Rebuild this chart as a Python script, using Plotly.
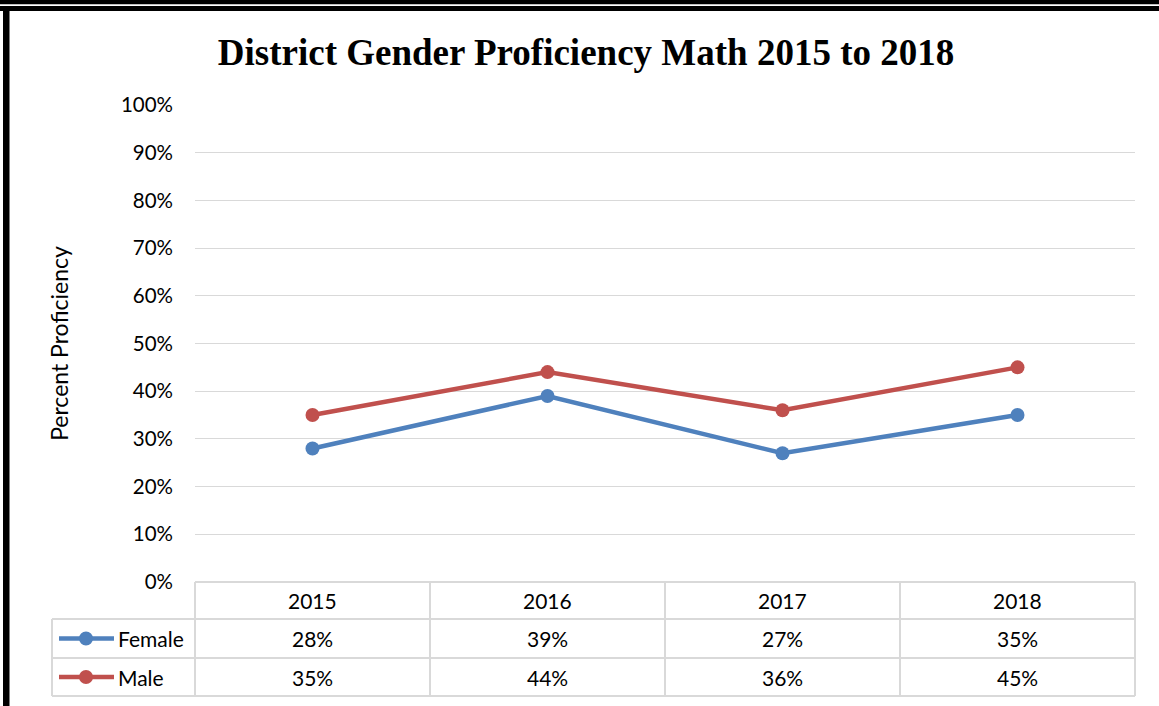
import plotly.graph_objects as go

years = ["2015", "2016", "2017", "2018"]
female = [0.28, 0.39, 0.27, 0.35]
male = [0.35, 0.44, 0.36, 0.45]
series_names = ["Female", "Male"]
series_colors = ["#4F81BD", "#C0504D"]
title_text = "District Gender Proficiency Math 2015 to 2018"
y_title = "Percent Proficiency"

W, H = 1159, 706
L, R, T, B = 195, 24, 105, 124
PW, PH = W - L - R, H - T - B
FONT = "Lato, Carlito, sans-serif"


def px(x):
    return (x - L) / PW


def py(y):
    return (H - B - y) / PH


fig = go.Figure()
for name, vals, col in zip(series_names, [female, male], series_colors):
    fig.add_trace(go.Scatter(
        x=years, y=vals, name=name, mode="lines+markers",
        line=dict(color=col, width=4.5),
        marker=dict(color=col, size=14),
        showlegend=False, cliponaxis=False,
    ))

shapes = []
annotations = []
grid = "#d9d9d9"

# Frame border (top double band, left bar)
shapes.append(dict(type="rect", xref="paper", yref="paper", x0=px(0), x1=px(W), y0=py(0), y1=py(4.3),
                   fillcolor="black", line=dict(width=0), layer="above"))
shapes.append(dict(type="rect", xref="paper", yref="paper", x0=px(0), x1=px(W), y0=py(6), y1=py(11),
                   fillcolor="black", line=dict(width=0), layer="above"))
shapes.append(dict(type="rect", xref="paper", yref="paper", x0=px(3), x1=px(9.5), y0=py(11), y1=py(H),
                   fillcolor="black", line=dict(width=0), layer="above"))

# Data table
n = len(years)
row_y = [582, 619, 658, 696]
leg_x = 52


def colx(i):
    return i / n  # paper x of column boundary


def line(x0, y0, x1, y1):
    shapes.append(dict(type="line", xref="paper", yref="paper", x0=x0, y0=y0, x1=x1, y1=y1,
                       line=dict(color=grid, width=2), layer="below"))


line(0, py(row_y[0]), 1, py(row_y[0]))
for yy in row_y[1:]:
    line(px(leg_x), py(yy), 1, py(yy))
for i in range(n + 1):
    line(colx(i), py(row_y[0]), colx(i), py(row_y[-1]))
line(px(leg_x), py(row_y[1]), px(leg_x), py(row_y[-1]))

cell_font = dict(family=FONT, size=21, color="#000")
for i, yr in enumerate(years):
    cx = (i + 0.5) / n
    annotations.append(dict(x=cx, y=py((row_y[0] + row_y[1]) / 2), xref="paper", yref="paper",
                            xanchor="center", yanchor="middle",
                            text=yr, showarrow=False, font=cell_font))
    for r, vals in enumerate([female, male]):
        annotations.append(dict(x=cx, y=py((row_y[r + 1] + row_y[r + 2]) / 2), xref="paper", yref="paper",
                                xanchor="center", yanchor="middle",
                                text=f"{round(vals[i] * 100)}%", showarrow=False, font=cell_font))

for r, (name, col) in enumerate(zip(series_names, series_colors)):
    yc = py((row_y[r + 1] + row_y[r + 2]) / 2)
    shapes.append(dict(type="line", xref="paper", yref="paper", x0=px(59), x1=px(114), y0=yc, y1=yc,
                       line=dict(color=col, width=4.5), layer="above"))
    shapes.append(dict(type="circle", xref="paper", yref="paper", xsizemode="pixel", ysizemode="pixel",
                       xanchor=px(86), yanchor=yc, x0=-7, x1=7, y0=-7, y1=7,
                       fillcolor=col, line=dict(color=col, width=0), layer="above"))
    annotations.append(dict(x=px(116), y=yc, xref="paper", yref="paper", xanchor="left", yanchor="middle",
                            text=name, showarrow=False, font=cell_font))

fig.update_layout(
    width=W, height=H,
    margin=dict(l=L, r=R, t=T, b=B),
    paper_bgcolor="white", plot_bgcolor="white",
    title=dict(text=f"<b>{title_text}</b>", xref="container", yref="container",
               x=586 / W, xanchor="center", y=1 - 52 / H, yanchor="middle",
               font=dict(family="Liberation Serif, Times New Roman, serif", size=37, color="#000")),
    xaxis=dict(type="category", range=[-0.5, n - 0.5], showticklabels=False, showgrid=False,
               zeroline=False, showline=False, ticks=""),
    yaxis=dict(range=[0, 1], dtick=0.1, tickformat=".0%", showgrid=True, gridcolor=grid, gridwidth=1.3,
               zeroline=False, showline=False, ticks="", ticklabelstandoff=21,
               tickfont=dict(family=FONT, size=20.5, color="#000"),
               title=dict(text=y_title, standoff=45,
                          font=dict(family=FONT, size=23, color="#000"))),
    shapes=shapes, annotations=annotations,
)

fig.write_html("out.html", config={"displayModeBar": False},
               post_script="document.body.style.margin='0';document.body.style.overflow='hidden';")
